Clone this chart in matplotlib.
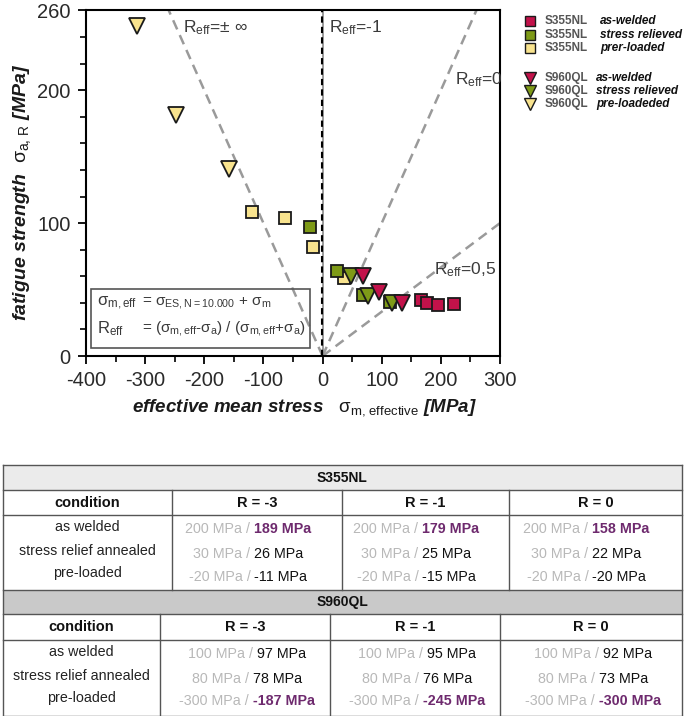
import matplotlib
matplotlib.use("Agg")
import matplotlib.pyplot as plt
from matplotlib.patches import Rectangle
from matplotlib.ticker import MultipleLocator, FixedLocator
import numpy as np

plt.rcParams['font.family'] = ['Liberation Sans', 'DejaVu Sans']
plt.rcParams['axes.unicode_minus'] = False
plt.rcParams['mathtext.fontset'] = 'custom'
plt.rcParams['mathtext.rm'] = 'Liberation Sans'
plt.rcParams['mathtext.it'] = 'Liberation Sans:italic'
plt.rcParams['mathtext.bf'] = 'Liberation Sans:italic:bold'

# ---------------- data ----------------
s355_aw_x = [167, 177, 196, 223]
s355_aw_y = [42, 40, 38.5, 39]
s355_sr_x = [-21, 24, 68, 114]
s355_sr_y = [97, 64, 46, 41]
s355_pl_x = [-119, -64, -16, 36]
s355_pl_y = [108, 104, 82, 59]
s960_aw_x = [68, 96, 134]
s960_aw_y = [60, 48.5, 40]
s960_sr_x = [48, 77, 117]
s960_sr_y = [60, 45, 40]
s960_pl_x = [-314, -247, -158]
s960_pl_y = [248, 181, 141]

x_ticks = [-400, -300, -200, -100, 0, 100, 200, 300]
y_ticks = [0, 100, 200, 260]
r_eff_slopes = [-1.0, 1.0, 1.0 / 3.0]   # R=±inf, R=0, R=0.5 : sigma_a = k * sigma_m

legend_steels = ["S355NL", "S355NL", "S355NL", "S960QL", "S960QL", "S960QL"]
legend_conds = ["as-welded", "stress relieved", "prer-loaded",
                "as-welded", "stress relieved", "pre-loadeded"]

conditions = ["as welded", "stress relief annealed", "pre-loaded"]
r_headers = ["R = -3", "R = -1", "R = 0"]
s355_nominal = [["200 MPa", "200 MPa", "200 MPa"],
                ["30 MPa", "30 MPa", "30 MPa"],
                ["-20 MPa", "-20 MPa", "-20 MPa"]]
s355_effective = [["189 MPa", "179 MPa", "158 MPa"],
                  ["26 MPa", "25 MPa", "22 MPa"],
                  ["-11 MPa", "-15 MPa", "-20 MPa"]]
s960_nominal = [["100 MPa", "100 MPa", "100 MPa"],
                ["80 MPa", "80 MPa", "80 MPa"],
                ["-300 MPa", "-300 MPa", "-300 MPa"]]
s960_effective = [["97 MPa", "95 MPa", "92 MPa"],
                  ["78 MPa", "76 MPa", "73 MPa"],
                  ["-187 MPa", "-245 MPa", "-300 MPa"]]
highlight_rows = {"S355NL": 0, "S960QL": 2}

RED = "#C2124A"
GREEN = "#7E9A17"
YELLOW = "#F8E38E"
EDGE = "#1a1a1a"
PURPLE = "#6E2A6E"
LGREY = "#B8B8B8"

W, H = 685, 716
fig = plt.figure(figsize=(W / 100, H / 100), dpi=100)

# ---------------- main axes ----------------
ax = fig.add_axes([86 / W, 1 - 356 / H, 414 / W, 345.5 / H])
ax.set_xlim(-400, 300)
ax.set_ylim(0, 260)

xs_line = np.array([0.0, 400.0])
for k in r_eff_slopes:
    xx = -xs_line if k < 0 else xs_line
    ax.plot(xx, np.abs(k) * xs_line, color="#9a9a9a", lw=1.8,
            ls=(0, (4, 2.5)), zorder=1)
ax.axvline(1.2, color="#8a8a8a", lw=1.2, zorder=1)
ax.axvline(-0.8, color="black", lw=1.5, ls=(0, (3, 2)), zorder=2)

mk = dict(markeredgecolor=EDGE, markeredgewidth=1.3, ls="none", zorder=3)
ax.plot(s355_pl_x, s355_pl_y, "s", ms=9, markerfacecolor=YELLOW, **mk)
ax.plot(s355_sr_x, s355_sr_y, "s", ms=9, markerfacecolor=GREEN, **mk)
ax.plot(s355_aw_x, s355_aw_y, "s", ms=9, markerfacecolor=RED, **mk)
ax.plot(s960_pl_x, s960_pl_y, "v", ms=11, markerfacecolor=YELLOW, **mk)
ax.plot(s960_sr_x, s960_sr_y, "v", ms=11, markerfacecolor=GREEN, **mk)
ax.plot(s960_aw_x, s960_aw_y, "v", ms=11, markerfacecolor=RED, **mk)

tc = "#3a3a3a"
ax.text(-236, 247, r"R$_{\mathrm{eff}}$=± ∞", fontsize=12.5, color=tc, va="center")
ax.text(11, 247, r"R$_{\mathrm{eff}}$=-1", fontsize=12.5, color=tc, va="center")
ax.text(224, 208, r"R$_{\mathrm{eff}}$=0", fontsize=12.5, color=tc, va="center")
ax.text(188, 65, r"R$_{\mathrm{eff}}$=0,5", fontsize=12.5, color=tc, va="center")

# formula box
ax.add_patch(Rectangle((0.0114, 0.024), 0.53, 0.169, transform=ax.transAxes,
                       fill=False, edgecolor="#555555", lw=1.2, zorder=4))
fs_f = 11
ax.text(0.027, 0.152, r"σ$_{\mathrm{m,eff}}$", transform=ax.transAxes, fontsize=fs_f + 1,
        color=tc, va="center")
ax.text(0.135, 0.152, r"= σ$_{\mathrm{ES,N=10.000}}$ + σ$_{\mathrm{m}}$", transform=ax.transAxes,
        fontsize=fs_f, color=tc, va="center")
ax.text(0.027, 0.080, r"R$_{\mathrm{eff}}$", transform=ax.transAxes, fontsize=fs_f + 1,
        color=tc, va="center")
ax.text(0.135, 0.080, r"= (σ$_{\mathrm{m,eff}}$-σ$_{\mathrm{a}}$) / (σ$_{\mathrm{m,eff}}$+σ$_{\mathrm{a}}$)",
        transform=ax.transAxes, fontsize=fs_f, color=tc, va="center")

ax.xaxis.set_major_locator(FixedLocator(x_ticks))
ax.xaxis.set_minor_locator(MultipleLocator(50))
ax.yaxis.set_major_locator(FixedLocator(y_ticks))
ax.yaxis.set_minor_locator(MultipleLocator(20))
ax.tick_params(which="major", direction="out", length=6, width=1.3, labelsize=14.5,
               labelcolor="#2a2a2a", pad=5)
ax.tick_params(which="minor", direction="out", length=4, width=1.2)
for s in ax.spines.values():
    s.set_linewidth(1.5)

ax.set_xlabel(r"$\mathbf{effective\ mean\ stress}$   σ$_{\mathrm{m,\,effective}}$ $\mathbf{[MPa]}$",
              fontsize=13.5, color="#1a1a1a")
ax.xaxis.set_label_coords(0.527, -0.118)
ax.set_ylabel(r"$\mathbf{fatigue\ strength}$  σ$_{\mathrm{a,\,R}}$ $\mathbf{[MPa]}$",
              fontsize=14, color="#1a1a1a")
ax.yaxis.set_label_coords(-0.128, 0.475)

# ---------------- overlay (legend + table), pixel coordinates ----------------
ov = fig.add_axes([0, 0, 1, 1], zorder=5)
ov.set_xlim(0, W)
ov.set_ylim(H, 0)
ov.axis("off")
ov.patch.set_visible(False)

leg_y = [21, 35, 48, 78, 91, 104]
leg_marker = ["s", "s", "s", "v", "v", "v"]
leg_color = [RED, GREEN, YELLOW, RED, GREEN, YELLOW]
leg_cond_x = [600, 600, 600, 596, 596, 596]
for yy, m, c, st, cond, cx in zip(leg_y, leg_marker, leg_color, legend_steels,
                                   legend_conds, leg_cond_x):
    ov.plot([530], [yy], m, ms=7 if m == "s" else 9, markerfacecolor=c,
            markeredgecolor=EDGE, markeredgewidth=1.0, clip_on=False)
    ov.text(545, yy, st, fontsize=8.5, color="#555555", fontweight="bold", va="center")
    ov.text(cx, yy, cond, fontsize=8.5, color="#111111", fontweight="bold",
            style="italic", va="center")

# table
LINE = "#555555"
def hline(y, x0=3, x1=682):
    ov.plot([x0, x1], [y, y], color=LINE, lw=1.0)

def vline(x, y0, y1):
    ov.plot([x, x], [y0, y1], color=LINE, lw=1.0)

ov.add_patch(Rectangle((3, 465), 679, 25, facecolor="#EBEBEB", edgecolor="none"))
ov.add_patch(Rectangle((3, 590), 679, 24, facecolor="#C9C9C9", edgecolor="none"))
for y in [465, 490, 515, 590, 614, 640, 716]:
    hline(y)
vline(3, 465, 716)
vline(682, 465, 716)
cols355 = [3, 172, 342, 509, 682]
cols960 = [3, 160, 330, 500, 682]
for x in cols355[1:-1]:
    vline(x, 490, 590)
for x in cols960[1:-1]:
    vline(x, 614, 716)

TFS = 10
pairs = []
def block(name, y_head, y_cond, y_rows_c, y_rows_v, cols, nominal, effective, shift):
    ov.text(342, y_head, name, fontsize=TFS, fontweight="bold", ha="center", va="center",
            color="#111111")
    ov.text((cols[0] + cols[1]) / 2, y_cond, "condition", fontsize=TFS + 0.5, fontweight="bold",
            ha="center", va="center", color="#111111")
    for j, rh in enumerate(r_headers):
        ov.text((cols[j + 1] + cols[j + 2]) / 2, y_cond, rh, fontsize=TFS + 0.5, fontweight="bold",
                ha="center", va="center", color="#111111")
    for i, cond in enumerate(conditions):
        ov.text((cols[0] + cols[1]) / 2, y_rows_c[i], cond, fontsize=TFS + 0.3, ha="center",
                va="center", color="#222222")
        for j in range(3):
            cx = (cols[j + 1] + cols[j + 2]) / 2 + shift
            t1 = ov.text(cx, y_rows_v[i], nominal[i][j] + " /", fontsize=TFS + 0.3, ha="left",
                         va="center", color=LGREY)
            hl = highlight_rows[name] == i
            t2 = ov.text(cx, y_rows_v[i], effective[i][j], fontsize=TFS + 0.3, ha="left",
                         va="center", color=PURPLE if hl else "#111111",
                         fontweight="bold" if hl else "normal")
            pairs.append((cx, t1, t2))

block("S355NL", 478, 503, [527, 551, 573], [529, 554, 577], cols355, s355_nominal,
      s355_effective, -9)
block("S960QL", 602, 627, [652, 676, 698], [654, 679, 701], cols960, s960_nominal,
      s960_effective, 2)

fig.canvas.draw()
r = fig.canvas.get_renderer()
gap = 4
for cx, t1, t2 in pairs:
    w1 = t1.get_window_extent(r).width
    w2 = t2.get_window_extent(r).width
    x0 = cx - (w1 + gap + w2) / 2
    t1.set_x(x0)
    t2.set_x(x0 + w1 + gap)

fig.savefig("out.png", dpi=100)
